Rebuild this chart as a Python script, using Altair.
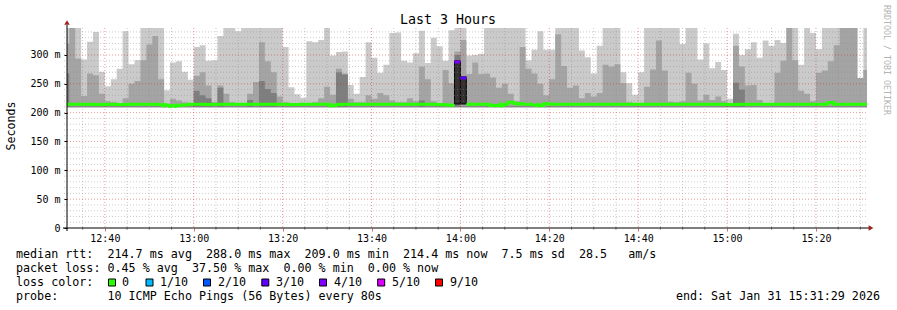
import altair as alt
import pandas as pd

# ---------------- data (80 s steps, first step 12:30:40 .. last 15:30:40) -------------
L_TOP = [347, 347, 347, 292, 323, 340, 271, 246, 258, 276, 341, 284, 291,
         347, 347, 347, 347, 239, 287, 289, 271, 257,
         314, 317, 290, 291, 333, 347, 347, 341,
         347, 347, 347, 347, 347, 347, 347,
         314, 244, 232, 226, 324, 322, 326,
         347, 299, 305, 306, 248, 233, 262, 322, 295, 269, 283,
         338, 339, 290, 287, 303, 342, 286, 330, 315, 290, 343,
         347, 347, 299, 300, 302,
         347, 347, 347, 347, 347, 347, 347,
         291, 309, 341, 309, 309,
         347, 347, 347, 347,
         308, 296, 268, 316,
         347, 347, 347,
         270, 251, 231, 270,
         347, 347, 347, 347, 347, 347,
         319, 347, 347, 292, 320,
         277, 288, 274, 224, 337, 300, 310, 322, 295, 325, 316, 326, 321,
         347, 347, 283, 347, 338, 310, 347, 347, 347, 347, 347, 347, 260, 347]

M_TOP = [320, 347, 294, 229, 268, 265, 233, 220, 218, 216, 225, 250, 255,
         291, 318, 333, 258, 216, 224, 221, 218, 216,
         264, 270, 247, 218, 247, 233, 218, 216,
         216, 233, 253, 322, 289, 270, 228,
         218, 216, 216, 215, 216, 218, 225,
         245, 231, 276, 268, 224, 218, 218, 230, 224, 234, 230,
         221, 218, 218, 225, 220, 280, 258, 220, 216, 274, 251,
         306, 326, 267, 287, 267,
         268, 261, 243, 250, 233, 220, 314,
         276, 268, 250, 230, 258,
         336, 281, 243, 247,
         225, 234, 228, 234,
         283, 280, 284,
         251, 218, 216, 216,
         245, 275, 325, 273, 219, 218,
         220, 269, 250, 221, 231,
         222, 228, 220, 216, 316, 280, 247, 248, 222, 216, 216, 269, 290,
         347, 291, 238, 233, 220, 269, 273, 289, 317, 347, 347, 347, 260, 274]

D_TOP = [268, 211, 211, 211, 211, 211, 211, 211, 211, 211, 211, 211, 211,
         211, 211, 211, 211, 211, 211, 211, 211, 211,
         238, 230, 225, 211, 243, 211, 211, 211,
         211, 222, 211, 255, 241, 234, 211,
         211, 211, 211, 211, 211, 211, 211,
         211, 211, 270, 266, 211, 211, 211, 211, 211, 211, 211,
         211, 211, 211, 211, 211, 221, 211, 211, 211, 211, 211,
         300, 211, 211, 211, 211,
         211, 211, 211, 211, 211, 211, 211,
         211, 211, 211, 211, 211,
         211, 211, 211, 211,
         211, 211, 211, 211,
         211, 211, 211,
         211, 211, 211, 211,
         211, 211, 211, 211, 211, 211,
         211, 211, 211, 211, 211,
         211, 211, 211, 211, 252, 240, 211, 211, 211, 211, 211, 211, 211,
         211, 211, 211, 211, 211, 211, 211, 211, 211, 211, 211, 211, 211, 211]

MEDIAN = [214.5, 214.5, 214.5, 214.5, 214.5, 214.0, 214.0, 214.5, 214.5, 214.0, 214.0, 214.5, 214.5,
          214.5, 214.5, 214.5, 214.5, 212.0, 211.0, 213.0, 213.5, 214.5,
          214.5, 214.5, 214.0, 214.5, 214.5, 214.5, 214.5, 214.5,
          214.5, 214.5, 214.5, 214.5, 214.5, 214.5, 214.5,
          214.5, 214.0, 214.0, 214.5, 214.5, 214.5, 214.5,
          214.5, 212.0, 214.0, 214.5, 214.5, 214.5, 214.5, 214.5, 214.5, 214.5, 214.5,
          214.5, 214.5, 214.5, 214.5, 214.5, 214.5, 214.5, 214.5, 214.0, 213.5, 213.0,
          None, None, 214.5, 214.5, 214.5,
          214.5, 212.5, 212.0, 215.0, 218.0, 216.0, 214.5,
          214.5, 214.0, 212.0, 215.5, 214.5,
          214.5, 214.5, 214.5, 214.5,
          214.5, 214.5, 214.5, 214.5,
          214.5, 214.5, 214.5,
          214.5, 214.5, 214.5, 214.5,
          214.5, 214.5, 214.5, 214.5, 214.5, 214.5,
          214.5, 214.5, 214.5, 214.5, 214.5,
          214.5, 214.5, 214.5, 214.0, 214.0, 214.5, 214.5, 214.5, 214.5, 214.5, 214.5, 214.5, 214.5,
          214.5, 214.5, 214.5, 214.5, 214.5, 214.5, 214.5, 217.5, 214.5, 214.5, 214.5, 214.5, 214.5, 214.5]

LOSS_IDX = [66, 67]            # positions in the arrays above (step 65 and 66)
LOSS_MEDIAN = [288.0, 260.0]
LOSS_TOP = [290.0, 262.0]
LOSS_BOT = [215.0, 215.0]
LOSS_COLORS = ["#7e00ff", "#5e00ff"]

LEGEND_LABELS = ["0", "1/10", "2/10", "3/10", "4/10", "5/10", "9/10"]
LEGEND_COLORS = ["#26ff00", "#00b8ff", "#0059ff", "#5e00ff", "#7e00ff", "#dd00ff", "#ff0000"]

Y_MAJOR = [0, 50, 100, 150, 200, 250, 300]
Y_MINOR = [10, 20, 30, 40, 60, 70, 80, 90, 110, 120, 130, 140, 160, 170, 180, 190,
           210, 220, 230, 240, 260, 270, 280, 290, 310, 320, 330, 340]
X_MAJOR = [40, 60, 80, 100, 120, 140, 160, 180, 200]          # minutes after 12:00
X_MINOR = [35, 45, 50, 55, 65, 70, 75, 85, 90, 95, 105, 110, 115, 125, 130, 135,
           145, 150, 155, 165, 170, 175, 185, 190, 195, 205, 210]

LINE1 = "median rtt:  214.7 ms avg  288.0 ms max  209.0 ms min  214.4 ms now  7.5 ms sd  28.5   am/s"
LINE2 = "packet loss: 0.45 % avg  37.50 % max  0.00 % min  0.00 % now"
LINE3 = "loss color:"
LINE4 = "probe:       10 ICMP Echo Pings (56 Bytes) every 80s"
END_TXT = "end: Sat Jan 31 15:31:29 2026"
TITLE = "Last 3 Hours"
SIDE = "RRDTOOL / TOBI OETIKER"

assert len(L_TOP) == len(M_TOP) == len(D_TOP) == len(MEDIAN) == 136

# ---------------- frames ----------------
T_FIRST = 30 + 40 / 60
STEP = 80 / 60
X_DOMAIN = [31 + 29 / 60, 211 + 29 / 60]
Y_DOMAIN = [0, 346.8]
n = len(L_TOP)
t0 = [T_FIRST + i * STEP for i in range(n)]


def area_df(tops, bot):
    ts = t0 + [t0[-1] + STEP]
    vs = list(tops) + [tops[-1]]
    return pd.DataFrame({"t": ts, "top": vs, "bot": [bot] * len(ts)})


med_rows = []
seg = 0
for i, v in enumerate(MEDIAN):
    if v is None:
        seg += 1
        continue
    med_rows.append({"t": t0[i], "v": v, "seg": seg})
    med_rows.append({"t": t0[i] + STEP, "v": v, "seg": seg})
med_df = pd.DataFrame(med_rows)

loss_df = pd.DataFrame({
    "t0": [t0[i] for i in LOSS_IDX],
    "t1": [t0[i] + STEP for i in LOSS_IDX],
    "top": LOSS_TOP, "bot": LOSS_BOT, "v": LOSS_MEDIAN, "c": LOSS_COLORS,
})

MONO = "DejaVu Sans Mono"
OX, OY = 67, 28   # plot origin inside the page

xs = alt.Scale(domain=X_DOMAIN, nice=False, zero=False)
ys = alt.Scale(domain=Y_DOMAIN, nice=False, zero=False)

x_axis = alt.Axis(values=X_MAJOR,
                  labelExpr="(12 + floor(datum.value/60)) + ':' + (datum.value % 60 < 10 ? '0' : '') + (datum.value % 60)",
                  labelFont=MONO, labelFontSize=10, labelColor="black", tickSize=3,
                  tickColor="#d07070", domain=False, grid=False, labelPadding=2,
                  labelOverlap=False, labelFlush=False)
y_axis = alt.Axis(values=Y_MAJOR,
                  labelExpr="datum.value == 0 ? '0' : datum.value + ' m'",
                  labelFont=MONO, labelFontSize=10, labelColor="black", tickSize=3,
                  tickColor="black", domain=False, grid=False, labelPadding=4,
                  labelOverlap=False, labelFlush=False)


def X(f):
    return alt.X(f, scale=xs, axis=x_axis, title=None)


def Y(f):
    return alt.Y(f, scale=ys, axis=y_axis, title=None)


def smoke(tops, bot, color):
    return alt.Chart(area_df(tops, bot)).mark_area(
        interpolate="step-after", color=color, clip=True
    ).encode(x=X("t:Q"), y=Y("top:Q"), y2="bot:Q")


layers = [
    smoke(L_TOP, 208.5, "#cacaca"),
    smoke(M_TOP, 209.5, "#a4a4a4"),
    smoke(D_TOP, 210.0, "#7e7e7e"),
    alt.Chart(loss_df).mark_rect(color="#323232", stroke="black", strokeWidth=1, clip=True).encode(
        x=X("t0:Q"), x2="t1:Q", y=Y("bot:Q"), y2="top:Q"),
]

# grid (drawn over the smoke, semi-transparent dotted)
layers += [
    alt.Chart(pd.DataFrame({"x": X_MINOR})).mark_rule(
        color="#8c8c8c", opacity=0.45, strokeDash=[1, 2], strokeWidth=1
    ).encode(x=X("x:Q")),
    alt.Chart(pd.DataFrame({"y": Y_MINOR})).mark_rule(
        color="#8c8c8c", opacity=0.45, strokeDash=[1, 2], strokeWidth=1
    ).encode(y=Y("y:Q"), x=alt.value(-3), x2=alt.value(800)),
    alt.Chart(pd.DataFrame({"x": X_MAJOR})).mark_rule(
        color="#d02020", opacity=0.45, strokeDash=[1, 2], strokeWidth=1
    ).encode(x=X("x:Q")),
    alt.Chart(pd.DataFrame({"y": Y_MAJOR[1:]})).mark_rule(
        color="#d02020", opacity=0.45, strokeDash=[1, 2], strokeWidth=1
    ).encode(y=Y("y:Q"), x=alt.value(-3), x2=alt.value(800)),
    alt.Chart(pd.DataFrame({"x": X_MINOR})).mark_rule(color="#999999", strokeWidth=1).encode(
        x=X("x:Q"), y=alt.value(199), y2=alt.value(202)),
]

# median line and loss-coloured medians
layers += [
    alt.Chart(med_df).mark_line(color="#26ff00", strokeWidth=3, clip=True, strokeCap="butt").encode(
        x=X("t:Q"), y=Y("v:Q"), detail="seg:N"),
    alt.Chart(loss_df).mark_rule(strokeWidth=3, clip=True).encode(
        x=X("t0:Q"), x2="t1:Q", y=Y("v:Q"),
        color=alt.Color("c:N", scale=None)),
]

one = pd.DataFrame({"k": [0]})

# axis lines and arrows
layers += [
    alt.Chart(one).mark_rule(color="black", strokeWidth=1).encode(
        x=alt.value(0), y=alt.value(-3), y2=alt.value(203)),
    alt.Chart(one).mark_rule(color="black", strokeWidth=1).encode(
        x=alt.value(-4), x2=alt.value(802), y=alt.value(200)),
    alt.Chart(one).mark_point(shape="triangle-up", filled=True, size=30, color="#a02020", opacity=1).encode(
        x=alt.value(0), y=alt.value(-5.5)),
    alt.Chart(one).mark_point(shape="triangle-right", filled=True, size=30, color="#a02020", opacity=1).encode(
        x=alt.value(804), y=alt.value(200)),
]


def txt(s, x, y, size=11.7, align="left", angle=0, color="black"):
    return alt.Chart(one).mark_text(
        text=s.replace(" ", "\u00a0"), font=MONO, fontSize=size, align=align,
        baseline="middle", angle=angle, color=color
    ).encode(x=alt.value(x - OX), y=alt.value(y - OY))


layers += [
    txt(TITLE, 448, 19.5, size=13.3, align="center"),
    txt("Seconds", 12, 126, size=11.6, align="center", angle=270),
    txt(SIDE, 886, 60, size=8.3, align="center", angle=90, color="#b4b4b4"),
    txt(LINE1, 16, 254.3),
    txt(LINE2, 16, 268.3),
    txt(LINE3, 16, 282.3),
    txt(LINE4, 16, 296.3),
    txt(END_TXT, 880, 296.3, align="right"),
]

SQ_X = [112, 149.5, 207, 265.3, 323, 381.2, 439]
LAB_X = [122, 160, 218, 276, 334, 392, 450]
for c, lab, sx, lx in zip(LEGEND_COLORS, LEGEND_LABELS, SQ_X, LAB_X):
    layers.append(alt.Chart(one).mark_square(size=49, fill=c, stroke="black", strokeWidth=1, opacity=1).encode(
        x=alt.value(sx - OX), y=alt.value(282.5 - OY)))
    layers.append(txt(lab, lx, 282.3))

chart = alt.layer(*layers).properties(
    width=800, height=200,
    padding={"left": OX, "top": OY, "right": 30, "bottom": 82},
    autosize="none", background="white",
).configure_view(strokeWidth=0)

chart.save("out.html", embed_options={"renderer": "svg", "actions": False})
